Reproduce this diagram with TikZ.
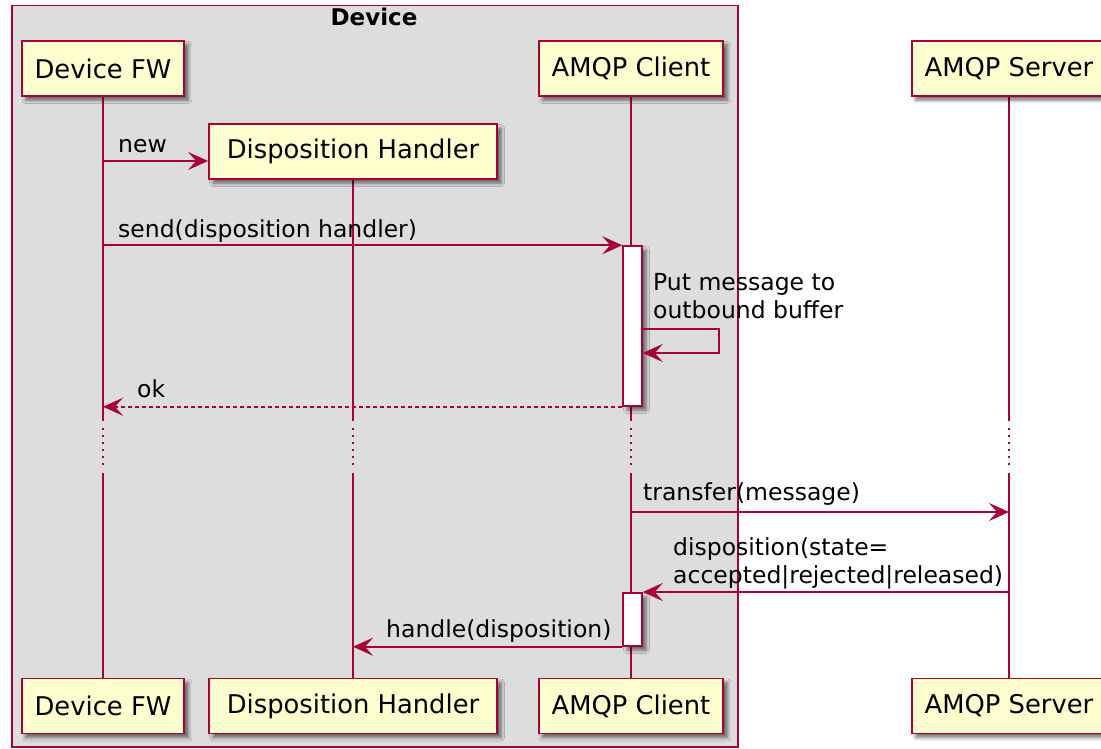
\documentclass[tikz,border=0pt]{standalone}
\usepackage{fontspec}
\setmainfont{DejaVu Sans}
\usetikzlibrary{arrows.meta,shadows.blur}
\definecolor{umlred}{HTML}{A80036}
\definecolor{umlfill}{HTML}{FEFECE}
\definecolor{grpbg}{HTML}{DDDDDD}
\newcommand\partfnt{\fontsize{25.8}{31}\selectfont}
\newcommand\msgfnt{\fontsize{23.5}{28}\selectfont}
\newcommand\grpfnt{\fontsize{23}{28}\selectfont\bfseries}
\pgfdeclarelayer{bg}
\pgfdeclarelayer{lines}
\pgfsetlayers{bg,lines,main}

\begin{document}
\begin{tikzpicture}[x=1pt,y=-1pt,
  boxshadow/.style={blur shadow={shadow xshift=4pt, shadow yshift=-4pt,
      shadow blur radius=3.5pt, shadow opacity=55}},
  participant/.style={draw=umlred, fill=umlfill, line width=1.8pt,
      minimum height=55pt, inner xsep=13pt, inner ysep=0pt,
      font=\partfnt, boxshadow},
  activation/.style={draw=umlred, fill=white, line width=1.5pt,
      minimum width=19pt, inner sep=0pt, boxshadow},
  lifeline/.style={draw=umlred, line width=1.5pt},
  gapline/.style={lifeline, dash pattern=on 2pt off 5pt},
  msg/.style={draw=umlred, line width=1.6pt,
      -{Stealth[length=20pt, width=18pt, inset=8pt]}},
  reply/.style={msg, dash pattern=on 4pt off 3pt},
  lbl/.style={font=\msgfnt, anchor=base west, inner sep=0pt, align=left},
  group/.style={draw=umlred, fill=grpbg, line width=1.5pt, inner sep=0pt,
      anchor=north west},
]
\useasboundingbox (0,0) rectangle (1101,749);
\clip (0,0) rectangle (1101,749);

% participants
\node[participant] (fwT) at (103,68.5) {Device FW};
\node[participant] (clT) at (631,68.5) {AMQP Client};
\node[participant] (svT) at (1009,68.5) {AMQP Server};
\node[participant, minimum width=288pt] (dh)  at (353,151.5) {Disposition Handler};
\node[participant] (fwB) at (103,706) {Device FW};
\node[participant, minimum width=288pt] (dhB) at (353,706) {Disposition Handler};
\node[participant] (clB) at (631,706) {AMQP Client};
\node[participant] (svB) at (1009,706) {AMQP Server};

% activation bars
\node[activation, minimum height=160pt] (act1) at (632.5,326) {};
\node[activation, minimum height=53pt]  (act2) at (632.5,619.5) {};

% group frame
\begin{pgfonlayer}{bg}
  \node[group, minimum width=726pt, minimum height=741pt] (device) at (11,5) {};
  \node[font=\grpfnt, anchor=base, inner sep=0pt] (devtitle) at (374,26) {Device};
\end{pgfonlayer}

% levels used by lifelines and messages
\coordinate (g1) at (0,421);
\coordinate (g2) at (0,428);
\coordinate (g3) at (0,468);
\coordinate (g4) at (0,473);
\coordinate (yNew) at (0,161);
\coordinate (ySelfA) at (0,329);
\coordinate (ySelfB) at (0,353);
\coordinate (yXfer) at (0,512);
\coordinate (yDisp) at (0,592);
\coordinate (loopR) at (719,0);

% lifelines with a delay gap
\begin{pgfonlayer}{lines}
  \foreach \t/\b in {fwT/fwB, dh/dhB, clT/clB, svT/svB} {
    \draw[lifeline] (\t) -- (\t |- g1) (\t |- g4) -- (\b);
    \draw[gapline] (\t |- g2) -- (\t |- g3);
  }
\end{pgfonlayer}

% messages
\draw[msg] (fwT |- yNew) -- (dh.west |- yNew);
\draw[msg] (fwT |- act1.north) -- (act1.north west);
\draw[msg] (act1.east |- ySelfA) -- (loopR |- ySelfA) -- (loopR |- ySelfB) -- (act1.east |- ySelfB);
\draw[reply] (act1.south west) -- (fwT |- act1.south);
\draw[msg] (clT |- yXfer) -- (svT |- yXfer);
\draw[msg] (svT |- yDisp) -- (act2.east |- yDisp);
\draw[msg] (act2.south west) -- (dh |- act2.south);

% message labels (base anchor sits on the last line)
\node[lbl] (lNew) at (118,153) {new};
\node[lbl] (lSend) at (118,237) {send(disposition handler)};
\node[lbl] (lSelf) at (653,318) {Put message to\\outbound buffer};
\node[lbl] (lOk) at (137,397) {ok};
\node[lbl] (lXfer) at (643,500) {transfer(message)};
\node[lbl] (lDisp) at (673,583) {disposition(state=\\accepted|rejected|released)};
\node[lbl] (lHandle) at (386,637) {handle(disposition)};
\end{tikzpicture}
\end{document}
